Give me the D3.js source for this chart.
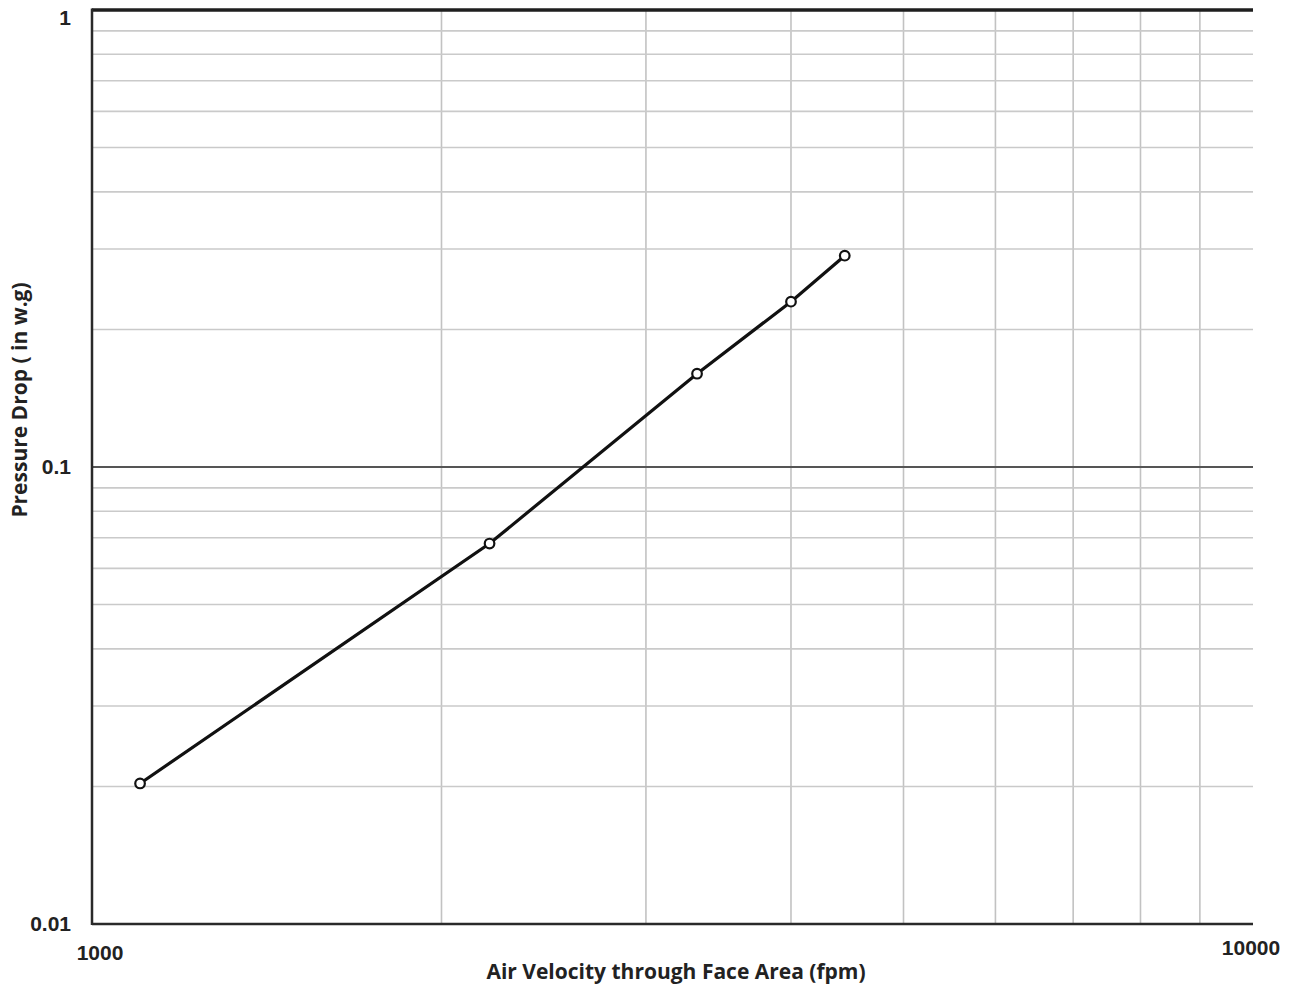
<!DOCTYPE html>
<html>
<head>
<meta charset="utf-8">
<script src="https://cdn.jsdelivr.net/npm/d3@7"></script>
<style>
  body { margin: 0; background: #fff; }
  .tick-label { font-family: "Liberation Sans", Arial, sans-serif; font-weight: bold; font-size: 21px; fill: #222; }
  .axis-title { font-family: "Open Sans", "Noto Sans", sans-serif; font-weight: bold; font-size: 21px; fill: #222; }
</style>
</head>
<body>
<div id="chart"></div>
<script>
// data
let velocity = [1100, 2200, 3320, 4000, 4450];
let pressure = [0.0203, 0.068, 0.16, 0.23, 0.29];

let xTickLabels = [1000, 10000];
let yTickLabels = [0.01, 0.1, 1];

let width = 1290, height = 984;
let margin = {top: 10, right: 37, bottom: 60, left: 92};

let svg = d3.select("#chart").append("svg")
    .attr("width", width)
    .attr("height", height);

let xScale = d3.scaleLog().domain([1000, 10000]).range([margin.left, width - margin.right]);
let yScale = d3.scaleLog().domain([0.01, 1]).range([height - margin.bottom, margin.top]);

// grid lines at 1..9 of every decade
let xGrid = xScale.ticks().filter(d => d > 1000 && d < 10000);
let yGrid = yScale.ticks().filter(d => d > 0.01 && d < 1 && Math.abs(d - 0.1) > 1e-9);

let grid = svg.append("g").attr("class", "grid");

grid.selectAll(".vgrid")
    .data(xGrid)
    .enter().append("line")
    .attr("class", "vgrid")
    .attr("x1", d => xScale(d)).attr("x2", d => xScale(d))
    .attr("y1", yScale(1)).attr("y2", yScale(0.01))
    .style("stroke", "#c2c2c2")
    .style("stroke-width", 1.6);

grid.selectAll(".hgrid")
    .data(yGrid)
    .enter().append("line")
    .attr("class", "hgrid")
    .attr("x1", xScale(1000)).attr("x2", xScale(10000))
    .attr("y1", d => yScale(d)).attr("y2", d => yScale(d))
    .style("stroke", "#cacaca")
    .style("stroke-width", 1.6);

// decade line at 0.1
grid.append("line")
    .attr("x1", xScale(1000)).attr("x2", xScale(10000))
    .attr("y1", yScale(0.1)).attr("y2", yScale(0.1))
    .style("stroke", "#555")
    .style("stroke-width", 2.2);

// frame: top, left, bottom (no right border)
svg.append("line")
    .attr("x1", xScale(1000)).attr("x2", xScale(10000))
    .attr("y1", yScale(1)).attr("y2", yScale(1))
    .style("stroke", "#1e1e1e").style("stroke-width", 3.5);
svg.append("line")
    .attr("x1", xScale(1000)).attr("x2", xScale(10000))
    .attr("y1", yScale(0.01)).attr("y2", yScale(0.01))
    .style("stroke", "#2a2a2a").style("stroke-width", 2.5);
svg.append("line")
    .attr("x1", xScale(1000)).attr("x2", xScale(1000))
    .attr("y1", yScale(1) - 1.5).attr("y2", yScale(0.01) + 1)
    .style("stroke", "#2a2a2a").style("stroke-width", 2.5);

// tick labels
svg.selectAll(".ylab")
    .data(yTickLabels)
    .enter().append("text")
    .attr("class", "tick-label")
    .attr("text-anchor", "end")
    .attr("x", 71)
    .attr("y", d => yScale(d) + (d === 1 ? 15 : 7))
    .text(d => d);

svg.selectAll(".xlab")
    .data(xTickLabels)
    .enter().append("text")
    .attr("class", "tick-label")
    .attr("text-anchor", "middle")
    .attr("x", d => xScale(d) + (d === 1000 ? 8 : -2))
    .attr("y", d => d === 1000 ? 960 : 955)
    .text(d => d);

// axis titles
svg.append("text")
    .attr("class", "axis-title")
    .attr("text-anchor", "middle")
    .attr("transform", "translate(676,979)")
    .text("Air Velocity through Face Area (fpm)");

svg.append("text")
    .attr("class", "axis-title")
    .attr("text-anchor", "middle")
    .attr("transform", "translate(27,400) rotate(270)")
    .text("Pressure Drop ( in w.g)");

// series
let points = velocity.map((v, i) => ({x: v, y: pressure[i]}));

let line = d3.line()
    .x(d => xScale(d.x))
    .y(d => yScale(d.y));

svg.append("path")
    .datum(points)
    .attr("d", line)
    .style("fill", "none")
    .style("stroke", "#111")
    .style("stroke-width", 3.2);

svg.selectAll(".pt")
    .data(points)
    .enter().append("circle")
    .attr("class", "pt")
    .attr("cx", d => xScale(d.x))
    .attr("cy", d => yScale(d.y))
    .attr("r", 4.8)
    .style("fill", "#fff")
    .style("stroke", "#111")
    .style("stroke-width", 2.2);
</script>
</body>
</html>
